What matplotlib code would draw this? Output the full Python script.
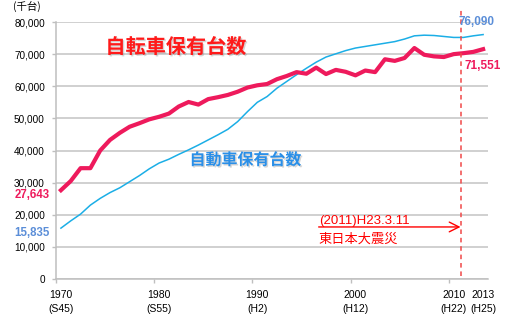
import matplotlib
matplotlib.use("Agg")
import matplotlib.pyplot as plt
import matplotlib.patheffects as pe
import numpy as np

plt.rcParams['font.family'] = ['Liberation Sans', 'Noto Sans CJK JP', 'DejaVu Sans']

# 保有台数（千台）
years = list(range(1970, 2014))
bicycles = [27643, 30500, 34500, 34500, 40000, 43300, 45500, 47400, 48500, 49700,
            50500, 51500, 53700, 55100, 54300, 56000, 56600, 57300, 58300, 59600,
            60300, 60700, 62200, 63200, 64400, 63900, 65800, 63800, 65100, 64500,
            63400, 64900, 64400, 68400, 67900, 68800, 71900, 69800, 69300, 69100,
            70000, 70300, 70700, 71551]
cars = [15835, 18100, 20200, 23000, 25100, 26900, 28400, 30300, 32200, 34300,
        36100, 37300, 38800, 40200, 41700, 43300, 44900, 46600, 49000, 52100,
        55000, 56800, 59400, 61500, 63600, 65600, 67500, 69100, 70100, 71100,
        71900, 72400, 72900, 73400, 73900, 74700, 75700, 75900, 75800, 75500,
        75200, 75200, 75700, 76090]

tick_years = [1970, 1980, 1990, 2000, 2010, 2013]
tick_eras = ['S45', 'S55', 'H2', 'H12', 'H22', 'H25']
y_ticks = list(range(0, 80001, 10000))
quake_year = 2010.7

red = '#EE1A5C'
blue = '#1BAEE6'
label_blue = '#5B8ED8'

fig = plt.figure(figsize=(5.30, 3.31), dpi=100)
ax = fig.add_axes([0.1057, 0.1571, 0.8151, 0.7764])

ax.plot(years, cars, color=blue, lw=1.1, solid_joinstyle='round', zorder=3)
ax.plot(years, bicycles, color=red, lw=3.0, solid_joinstyle='round', zorder=4)

ax.set_xlim(1969.5, 2013.5)
ax.set_ylim(0, 80000)

ax.set_yticks(y_ticks)
ax.set_yticklabels([f'{v:,}' for v in y_ticks], fontsize=7.2)
ax.tick_params(axis='y', length=3, width=1, color='#BFBFBF', pad=5)
ax.grid(axis='y', color='#C4C4C4', lw=1.1)
ax.set_axisbelow(True)

ax.set_xticks(tick_years)
ax.set_xticklabels([f'{y}\n({e})' for y, e in zip(tick_years, tick_eras)],
                   fontsize=7.5, linespacing=1.45)
ax.tick_params(axis='x', which='major', length=0, pad=8)
ax.set_xticks([1969.5, 1979.5, 1989.5, 1999.5, 2009.5], minor=True)
ax.tick_params(axis='x', which='minor', length=3, width=1, color='#BFBFBF')

for s in ['top', 'right']:
    ax.spines[s].set_visible(False)
for s in ['left', 'bottom']:
    ax.spines[s].set_color('#BFBFBF')
    ax.spines[s].set_linewidth(1.1)

# 東日本大震災
ax.axvline(quake_year, ymin=0.012, ymax=1.047, color='#F04848', lw=1.1,
           ls=(0, (3, 2.5)), clip_on=False, zorder=5)
ax.annotate('', xy=(quake_year, 16200), xytext=(1996.25, 16200),
            arrowprops=dict(arrowstyle='->,head_length=0.7,head_width=0.35',
                            color='#FF0000', lw=1.0, shrinkA=0, shrinkB=0))
ax.text(1996.25, 17900, '(2011)H23.3.11', color='#FF0000', fontsize=9.5,
        ha='left', va='center')
ax.text(1996.25, 12500, '東日本大震災', color='#FF0000', fontsize=9.5,
        ha='left', va='center', family=['Noto Sans CJK JP', 'DejaVu Sans'])

shadow = [pe.withSimplePatchShadow(offset=(1, -1), shadow_rgbFace='#888888', alpha=0.35)]
ax.text(1981.7, 72300, '自転車保有台数', color='#FF1A1A', fontsize=14.5,
        fontweight='bold', ha='center', va='center',
        family=['Noto Sans CJK JP', 'DejaVu Sans'], path_effects=shadow)
ax.text(1988.8, 37100, '自動車保有台数', color='#2A8FE8', fontsize=11.5,
        fontweight='bold', ha='center', va='center',
        family=['Noto Sans CJK JP', 'DejaVu Sans'], path_effects=shadow)

# 始点・終点の値
fig.text(0.0943, 1 - 194.5 / 331, f'{bicycles[0]:,}', color=red, fontsize=8.3,
         fontweight='bold', ha='right', va='center')
fig.text(0.0943, 1 - 233 / 331, f'{cars[0]:,}', color=label_blue, fontsize=8.3,
         fontweight='bold', ha='right', va='center')
fig.text(0.866, 1 - 21.7 / 331, f'{cars[-1]:,}', color=label_blue, fontsize=8.5,
         fontweight='bold', ha='left', va='center')
fig.text(0.8755, 1 - 65.7 / 331, f'{bicycles[-1]:,}', color=red, fontsize=8.5,
         fontweight='bold', ha='left', va='center')

fig.text(0.0245, 1 - 7 / 331, '(千台)', fontsize=7.5, ha='left', va='center',
         family=['Noto Sans CJK JP', 'DejaVu Sans'])

fig.savefig('out.png', dpi=100)
